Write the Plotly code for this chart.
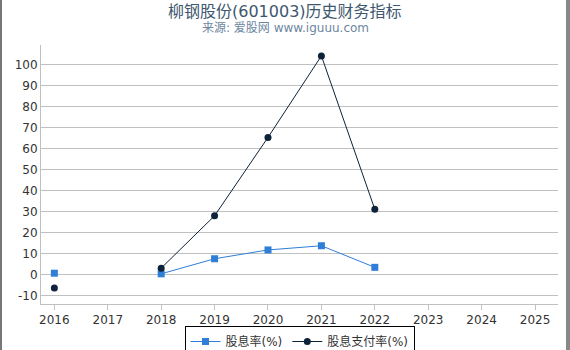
import plotly.graph_objects as go

years = [2016, 2017, 2018, 2019, 2020, 2021, 2022]
dividend_yield = [0.6, None, 0.3, 7.5, 11.7, 13.7, 3.4]
payout_ratio = [-6.5, None, 3.0, 28.0, 65.4, 104.3, 31.1]
x_ticks = list(range(2016, 2026))
y_ticks = list(range(-10, 101, 10))

W, H = 570, 350
L, R, T, B = 41, 12, 45, 46
pw, ph = W - L - R, H - T - B

def px_x(p):
    return (p - L) / pw

def px_y(p):
    return (H - B - p) / ph

fig = go.Figure()
fig.add_trace(go.Scatter(
    x=years, y=dividend_yield, name="股息率(%)", mode="lines+markers",
    line=dict(color="#2f7ed8", width=1),
    marker=dict(symbol="square", size=7, color="#2f7ed8"),
    connectgaps=False,
))
fig.add_trace(go.Scatter(
    x=years, y=payout_ratio, name="股息支付率(%)", mode="lines+markers",
    line=dict(color="#0d233a", width=1),
    marker=dict(symbol="circle", size=7, color="#0d233a"),
    connectgaps=False,
))

font_family = "DejaVu Sans, Noto Sans CJK SC, sans-serif"
fig.update_layout(
    width=W, height=H,
    margin=dict(l=L, r=R, t=T, b=B, autoexpand=False),
    paper_bgcolor="white", plot_bgcolor="white",
    font=dict(family=font_family, size=12, color="#333333"),
    showlegend=True,
    legend=dict(
        orientation="h", x=0.5, xanchor="center", y=px_y(326), yanchor="top",
        bordercolor="black", borderwidth=1, font=dict(size=12, color="#333333"),
        itemwidth=30, tracegroupgap=0, valign="middle",
    ),
    xaxis=dict(
        range=[2015.75, 2025.43], tickvals=x_ticks, ticktext=[str(v) for v in x_ticks],
        showgrid=False, zeroline=False, showline=True, linecolor="#C0C0C0", linewidth=1,
        ticks="outside", ticklen=5, tickcolor="#C0C0C0", tickfont=dict(size=12, color="#333333"),
    ),
    yaxis=dict(
        range=[-14.1, 109.5], tickvals=y_ticks, ticktext=[str(v) for v in y_ticks],
        showgrid=True, gridcolor="#C0C0C0", gridwidth=1, zeroline=False,
        showline=True, linecolor="#C0C0C0", linewidth=1,
        ticks="", tickfont=dict(size=12, color="#333333"),
    ),
    annotations=[
        dict(text="柳钢股份(601003)历史财务指标", x=px_x(W / 2), xref="paper",
             y=px_y(11), yref="paper", xanchor="center", yanchor="middle", showarrow=False,
             font=dict(size=16, color="#3E576F", family=font_family)),
        dict(text="来源: 爱股网 www.iguuu.com", x=px_x(W / 2), xref="paper",
             y=px_y(28), yref="paper", xanchor="center", yanchor="middle", showarrow=False,
             font=dict(size=12, color="#6D869F", family=font_family)),
    ],
    shapes=[
        dict(type="line", xref="paper", yref="paper", x0=px_x(1), x1=px_x(1), y0=px_y(0), y1=px_y(350),
             line=dict(color="#777777", width=2)),
        dict(type="line", xref="paper", yref="paper", x0=px_x(568), x1=px_x(568), y0=px_y(0), y1=px_y(350),
             line=dict(color="#888888", width=4)),
    ],
)

fig.write_html("out.html")
